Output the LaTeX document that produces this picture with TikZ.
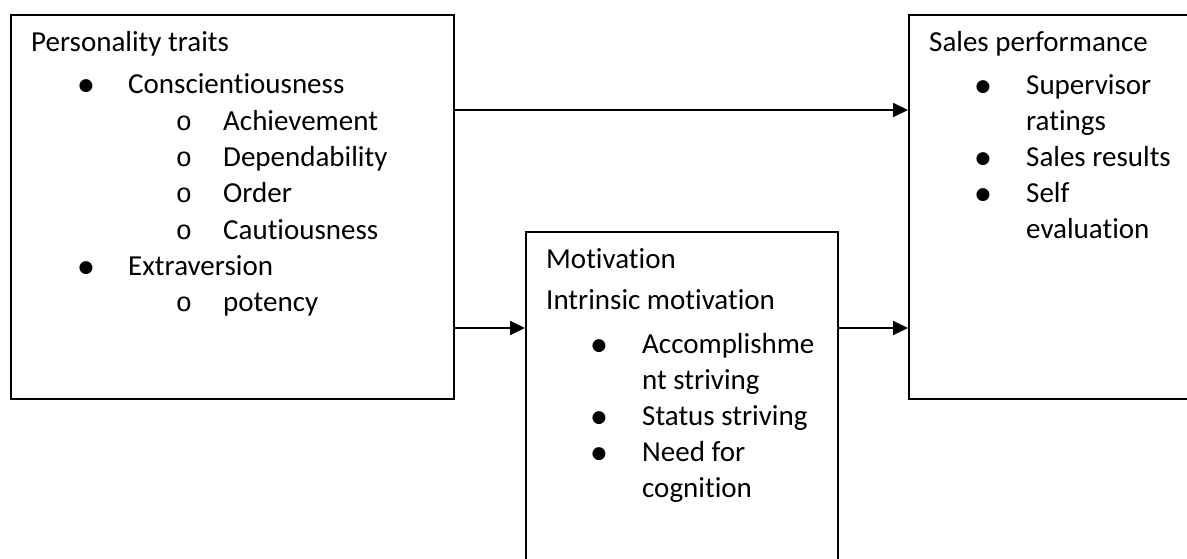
\documentclass[tikz,border=0pt]{standalone}
\usepackage{fontspec}
\setmainfont{Carlito}[Ligatures=NoCommon]
\newfontfamily\bulletfam{DejaVu Sans}
\newfontfamily\ofam{Liberation Mono}
\usetikzlibrary{arrows.meta}
\tikzset{
  box/.style={draw, line width=1.8pt, inner sep=0pt, anchor=north west},
  txt/.style={anchor=base west, inner sep=0pt, font=\fontsize{29}{36}\selectfont},
  bul/.style={anchor=base, inner sep=0pt, yshift=3pt, font=\bulletfam\fontsize{17}{22}\selectfont},
  sub/.style={anchor=base, inner sep=0pt, font=\ofam\fontsize{27}{36}\selectfont},
  arr/.style={line width=1.8pt, -{Triangle[length=15pt,width=14pt]}}
}
\begin{document}
\begin{tikzpicture}[x=1pt,y=-1pt]
\useasboundingbox (0,0) rectangle (1187,559);
\fill[white] (0,0) rectangle (1187,559);
\clip (0,0) rectangle (1187,559);
% boxes
\node[box, minimum width=443pt, minimum height=384pt] (pt) at (10,14) {};
\node[box, minimum width=312pt, minimum height=360pt] (mot) at (525,231) {};
\node[box, minimum width=320pt, minimum height=384pt] (sp) at (908,14) {};
% connectors
\draw[arr] ([yshift=-96pt]pt.north east) -- ([yshift=-96pt]sp.north west);
\draw[arr] ([yshift=-314pt]pt.north east) -- ([yshift=-97pt]mot.north west);
\draw[arr] ([yshift=-97pt]mot.north east) -- ([yshift=-314pt]sp.north west);
% left box text
\node[txt] (l0) at (31,52) {Personality traits};
\node[bul] (lb1) at (86,94) {●};
\node[txt] (l1) at (128,94) {Conscientiousness};
\node[sub] (lo1) at (184,130.3) {o};
\node[txt] (l2) at (223,130.3) {Achievement};
\node[sub] (lo2) at (184,166.6) {o};
\node[txt] (l3) at (223,166.6) {Dependability};
\node[sub] (lo3) at (184,202.9) {o};
\node[txt] (l4) at (223,202.9) {Order};
\node[sub] (lo4) at (184,239.2) {o};
\node[txt] (l5) at (223,239.2) {Cautiousness};
\node[bul] (lb2) at (86,275.5) {●};
\node[txt] (l6) at (128,275.5) {Extraversion};
\node[sub] (lo5) at (184,311.8) {o};
\node[txt] (l7) at (223,311.8) {potency};
% middle box text
\node[txt] (m0) at (546,268) {Motivation};
\node[txt] (m1) at (546,309) {Intrinsic motivation};
\node[bul] (mb1) at (599,353) {●};
\node[txt] (m2) at (642,353) {Accomplishme};
\node[txt] (m3) at (642,389) {nt striving};
\node[bul] (mb2) at (599,425) {●};
\node[txt] (m4) at (642,425) {Status striving};
\node[bul] (mb3) at (599,461) {●};
\node[txt] (m5) at (642,461) {Need for};
\node[txt] (m6) at (642,497) {cognition};
% right box text
\node[txt] (r0) at (929,52) {Sales performance};
\node[bul] (rb1) at (983,95) {●};
\node[txt] (r1) at (1026,95) {Supervisor};
\node[txt] (r2) at (1026,131) {ratings};
\node[bul] (rb2) at (983,167) {●};
\node[txt] (r3) at (1026,167) {Sales results};
\node[bul] (rb3) at (983,203) {●};
\node[txt] (r4) at (1026,203) {Self};
\node[txt] (r5) at (1026,239) {evaluation};
\end{tikzpicture}
\end{document}
